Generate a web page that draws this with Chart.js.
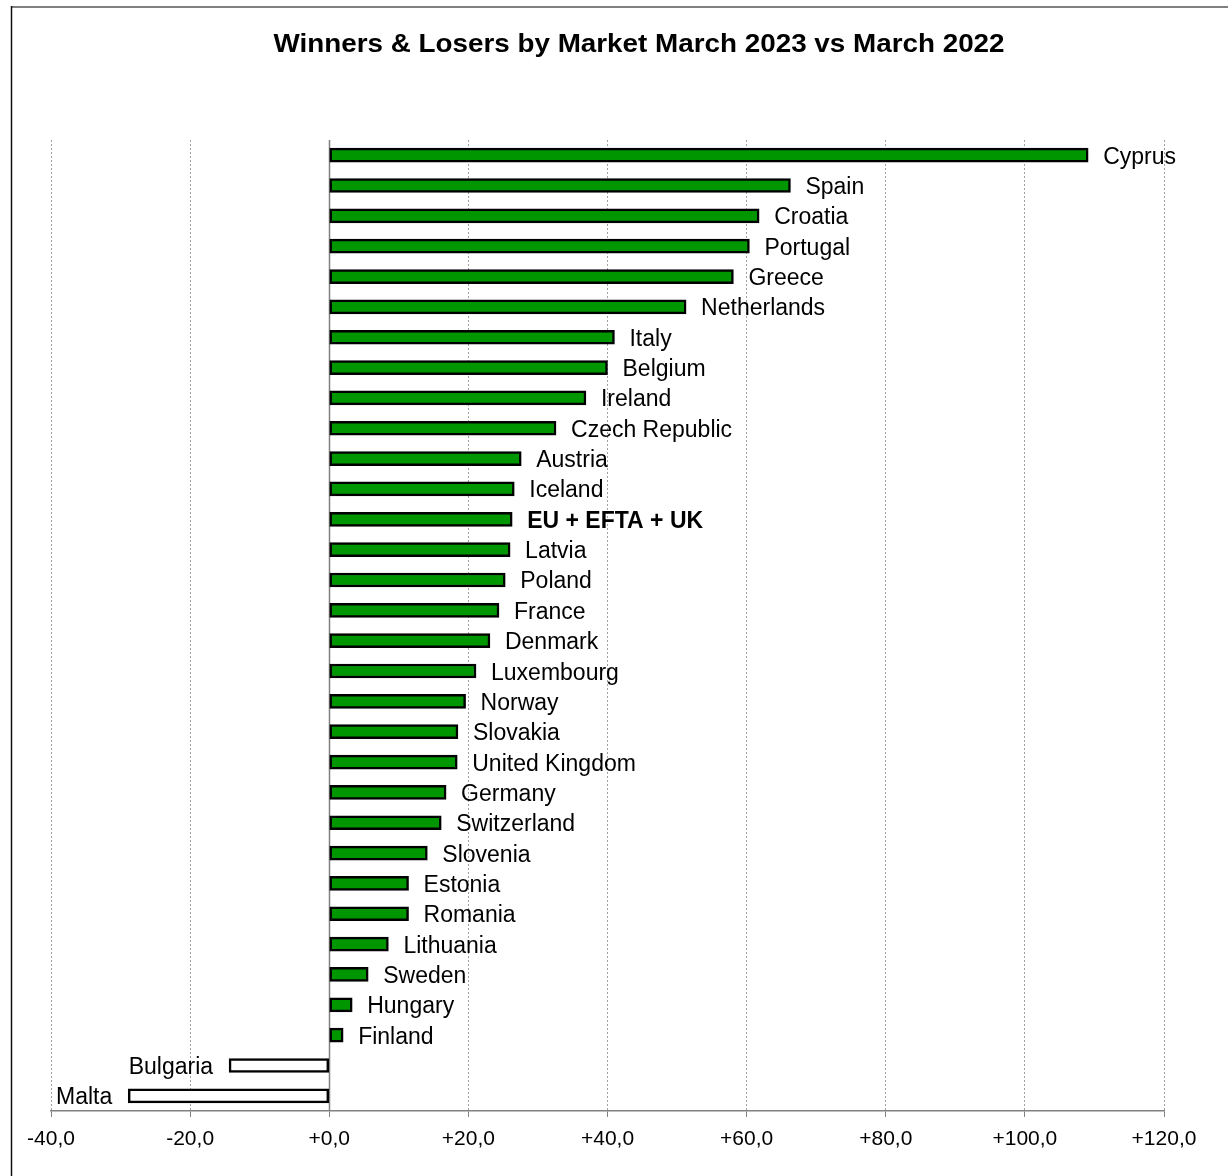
<!DOCTYPE html>
<html>
<head>
<meta charset="utf-8">
<script src="https://cdn.jsdelivr.net/npm/chart.js@4.4.0/dist/chart.umd.min.js"></script>
<style>
  html,body{margin:0;padding:0;background:#fff}
  #wrap{width:1228px;height:1176px}
</style>
</head>
<body>
<div id="wrap"><canvas id="chart" width="1228" height="1176"></canvas></div>
<script>
// data, top to bottom
var markets = ['Cyprus','Spain','Croatia','Portugal','Greece','Netherlands','Italy','Belgium','Ireland',
  'Czech Republic','Austria','Iceland','EU + EFTA + UK','Latvia','Poland','France','Denmark','Luxembourg',
  'Norway','Slovakia','United Kingdom','Germany','Switzerland','Slovenia','Estonia','Romania','Lithuania',
  'Sweden','Hungary','Finland','Bulgaria','Malta'];
var change = [109.1,66.3,61.8,60.4,58.1,51.3,41.0,40.0,36.9,
  32.6,27.6,26.6,26.3,26.0,25.3,24.4,23.1,21.1,
  19.6,18.5,18.4,16.8,16.1,14.1,11.4,11.4,8.5,
  5.6,3.3,2.0,-14.4,-28.9];
var xTicks = [-40,-20,0,20,40,60,80,100,120];
var titleText = 'Winners & Losers by Market March 2023 vs March 2022';
var totalLabel = 'EU + EFTA + UK';

var GREEN = '#009600';
var FONT = 'Arial, "Liberation Sans", sans-serif';

function fmtTick(v){
  return (v >= 0 ? '+' : '') + Number(v).toFixed(1).replace('.', ',');
}

function drawText(ctx, txt, x, y, sx, align){
  ctx.save();
  ctx.translate(x, y);
  ctx.scale(sx, 1);
  ctx.textAlign = align;
  ctx.textBaseline = 'alphabetic';
  ctx.fillText(txt, 0, 0);
  ctx.restore();
}

var decor = {
  id: 'decor',
  beforeDraw: function(chart){
    var ctx = chart.ctx;
    ctx.save();
    ctx.fillStyle = '#fff';
    ctx.fillRect(0, 0, chart.width, chart.height);
    // frame
    ctx.strokeStyle = '#808080'; ctx.lineWidth = 2;
    ctx.beginPath(); ctx.moveTo(11, 7); ctx.lineTo(chart.width, 7); ctx.stroke();
    ctx.strokeStyle = '#111'; ctx.lineWidth = 1.5;
    ctx.beginPath(); ctx.moveTo(11.5, 6); ctx.lineTo(11.5, chart.height); ctx.stroke();
    ctx.restore();
  },
  beforeDatasetsDraw: function(chart){
    var ctx = chart.ctx, a = chart.chartArea;
    var x0 = Math.round(chart.scales.x.getPixelForValue(0)) + 0.5;
    ctx.save();
    ctx.strokeStyle = '#808080'; ctx.lineWidth = 1.5;
    ctx.beginPath(); ctx.moveTo(x0, a.top); ctx.lineTo(x0, a.bottom); ctx.stroke();
    ctx.restore();
  },
  afterDatasetsDraw: function(chart){
    var ctx = chart.ctx;
    var meta = chart.getDatasetMeta(0);
    ctx.save();
    ctx.fillStyle = '#000';
    meta.data.forEach(function(el, i){
      var v = change[i];
      ctx.font = (markets[i] === totalLabel ? 'bold ' : '') + '23px ' + FONT;
      if (v >= 0) drawText(ctx, markets[i], el.x + 15, el.y + 8.5, 1, 'left');
      else drawText(ctx, markets[i], el.x - 16, el.y + 8.5, 1, 'right');
    });
    ctx.restore();
  },
  afterDraw: function(chart){
    var ctx = chart.ctx;
    ctx.save();
    ctx.fillStyle = '#000';
    ctx.font = 'bold 26px ' + FONT;
    drawText(ctx, titleText, 639, 52, 1.07, 'center');
    ctx.restore();
  }
};

new Chart(document.getElementById('chart').getContext('2d'), {
  type: 'bar',
  data: {
    labels: markets,
    datasets: [{
      data: change,
      backgroundColor: change.map(function(v){ return v >= 0 ? GREEN : '#ffffff'; }),
      borderColor: '#000',
      borderWidth: 2.5,
      borderSkipped: false,
      barThickness: 14
    }]
  },
  options: {
    indexAxis: 'y',
    responsive: false,
    animation: false,
    layout: { padding: { left: 51, right: 64, top: 140, bottom: 0 } },
    plugins: { legend: { display: false }, title: { display: false }, tooltip: { enabled: false } },
    scales: {
      y: { display: false },
      x: {
        min: -40, max: 120,
        afterBuildTicks: function(s){ s.ticks = xTicks.map(function(v){ return { value: v }; }); },
        afterFit: function(s){ s.height = 65; },
        grid: { color: '#a0a0a0', lineWidth: 1, tickLength: 6, tickColor: '#808080', drawTicks: true },
        border: { display: true, color: '#808080', width: 1.5, dash: [2, 2] },
        ticks: { color: '#000', font: { family: FONT, size: 21 }, padding: 10, maxRotation: 0,
          callback: function(v){ return fmtTick(v); } }
      }
    }
  },
  plugins: [decor]
});
</script>
</body>
</html>
